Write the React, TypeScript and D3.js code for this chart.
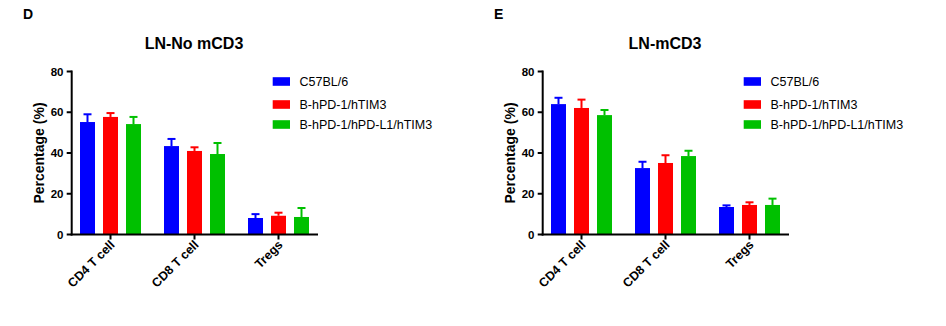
import React from "react";
import * as d3 from "d3";

const categories = ["CD4 T cell", "CD8 T cell", "Tregs"];
const seriesNames = ["C57BL/6", "B-hPD-1/hTIM3", "B-hPD-1/hPD-L1/hTIM3"];
const seriesColors = ["#0000FF", "#FF0000", "#00C000"];
const yTicks = [0, 20, 40, 60, 80];

// Panel D: LN-No mCD3 (mean, upper error)
const noMeanC57 = [55.2, 43.4, 8.1];
const noErrC57 = [59.0, 46.9, 10.0];
const noMeanPD1 = [57.7, 41.0, 9.2];
const noErrPD1 = [59.6, 42.8, 10.7];
const noMeanPDL1 = [54.2, 39.5, 8.6];
const noErrPDL1 = [57.7, 44.9, 13.0];

// Panel E: LN-mCD3
const mMeanC57 = [64.0, 32.6, 13.5];
const mErrC57 = [67.1, 35.7, 14.3];
const mMeanPD1 = [62.1, 35.1, 14.5];
const mErrPD1 = [66.2, 38.9, 15.8];
const mMeanPDL1 = [58.6, 38.5, 14.5];
const mErrPDL1 = [61.1, 41.1, 17.6];

const panels = [
  {
    letter: "D",
    title: "LN-No mCD3",
    ox: 0,
    means: [noMeanC57, noMeanPD1, noMeanPDL1],
    errs: [noErrC57, noErrPD1, noErrPDL1],
  },
  {
    letter: "E",
    title: "LN-mCD3",
    ox: 471,
    means: [mMeanC57, mMeanPD1, mMeanPDL1],
    errs: [mErrC57, mErrPD1, mErrPDL1],
  },
];

const FONT = "Arial, 'Liberation Sans', Helvetica, sans-serif";

function Panel({ p }: { p: (typeof panels)[number] }) {
  const y = d3.scaleLinear().domain([0, 80]).range([234.5, 71.5]);
  const x0 = d3.scaleBand<string>().domain(categories).range([68.5, 320.5]);
  const x1 = d3
    .scaleBand<string>()
    .domain(seriesNames)
    .range([0, x0.bandwidth()])
    .paddingInner(8 / 23)
    .paddingOuter(0.5);
  const axisX = 71.7;
  const bw = x1.bandwidth();
  return (
    <g transform={`translate(${p.ox},0)`}>
      <text x={23} y={19} fontFamily={FONT} fontWeight="bold" fontSize={14}>
        {p.letter}
      </text>
      <text x={194} y={48.5} fontFamily={FONT} fontWeight="bold" fontSize={16} textAnchor="middle">
        {p.title}
      </text>
      {/* bars */}
      {seriesNames.map((s, si) =>
        categories.map((c, ci) => {
          const bx = (x0(c) as number) + (x1(s) as number);
          const top = y(p.means[si][ci]);
          const et = y(p.errs[si][ci]);
          const cx = bx + bw / 2;
          return (
            <g key={s + c}>
              <rect x={bx} y={top} width={bw} height={y(0) - top} fill={seriesColors[si]} />
              <line x1={cx} x2={cx} y1={top} y2={et} stroke={seriesColors[si]} strokeWidth={2} />
              <line x1={cx - 4} x2={cx + 4} y1={et} y2={et} stroke={seriesColors[si]} strokeWidth={2} />
            </g>
          );
        })
      )}
      {/* y axis */}
      <line x1={axisX} x2={axisX} y1={y(80) - 1} y2={y(0) + 1} stroke="#000" strokeWidth={2} />
      {yTicks.map((t) => (
        <g key={t}>
          <line x1={axisX - 5} x2={axisX} y1={y(t)} y2={y(t)} stroke="#000" strokeWidth={2} />
          <text
            x={63.5}
            y={y(t) + 4}
            textAnchor="end"
            fontFamily={FONT}
            fontWeight="bold"
            fontSize={11.5}
          >
            {t}
          </text>
        </g>
      ))}
      <text
        transform={`translate(44,153) rotate(-90)`}
        textAnchor="middle"
        fontFamily={FONT}
        fontWeight="bold"
        fontSize={14}
      >
        Percentage (%)
      </text>
      {/* x axis */}
      <line x1={axisX - 1} x2={318} y1={y(0)} y2={y(0)} stroke="#000" strokeWidth={2} />
      {categories.map((c) => {
        const cx = (x0(c) as number) + x0.bandwidth() / 2;
        return (
          <g key={c}>
            <line x1={cx} x2={cx} y1={y(0)} y2={y(0) + 5} stroke="#000" strokeWidth={2} />
            <text
              transform={`translate(${cx + 5},${y(0) + 11}) rotate(-45)`}
              textAnchor="end"
              fontFamily={FONT}
              fontWeight="bold"
              fontSize={12.5}
            >
              {c}
            </text>
          </g>
        );
      })}
      {/* legend */}
      {seriesNames.map((s, si) => {
        const ly = [81.5, 104.5, 124.5][si];
        return (
          <g key={s}>
            <rect x={272.7} y={ly - 4.3} width={17.3} height={8.6} fill={seriesColors[si]} />
            <text x={299.5} y={ly + 4.3} fontFamily={FONT} fontSize={12.5} fill="#000">
              {s}
            </text>
          </g>
        );
      })}
    </g>
  );
}

export default function App() {
  return (
    <svg
      width={946}
      height={326}
      style={{ position: "absolute", left: 0, top: 0, background: "#fff" }}
    >
      <rect width={946} height={326} fill="#fff" />
      {panels.map((p) => (
        <Panel key={p.letter} p={p} />
      ))}
    </svg>
  );
}
